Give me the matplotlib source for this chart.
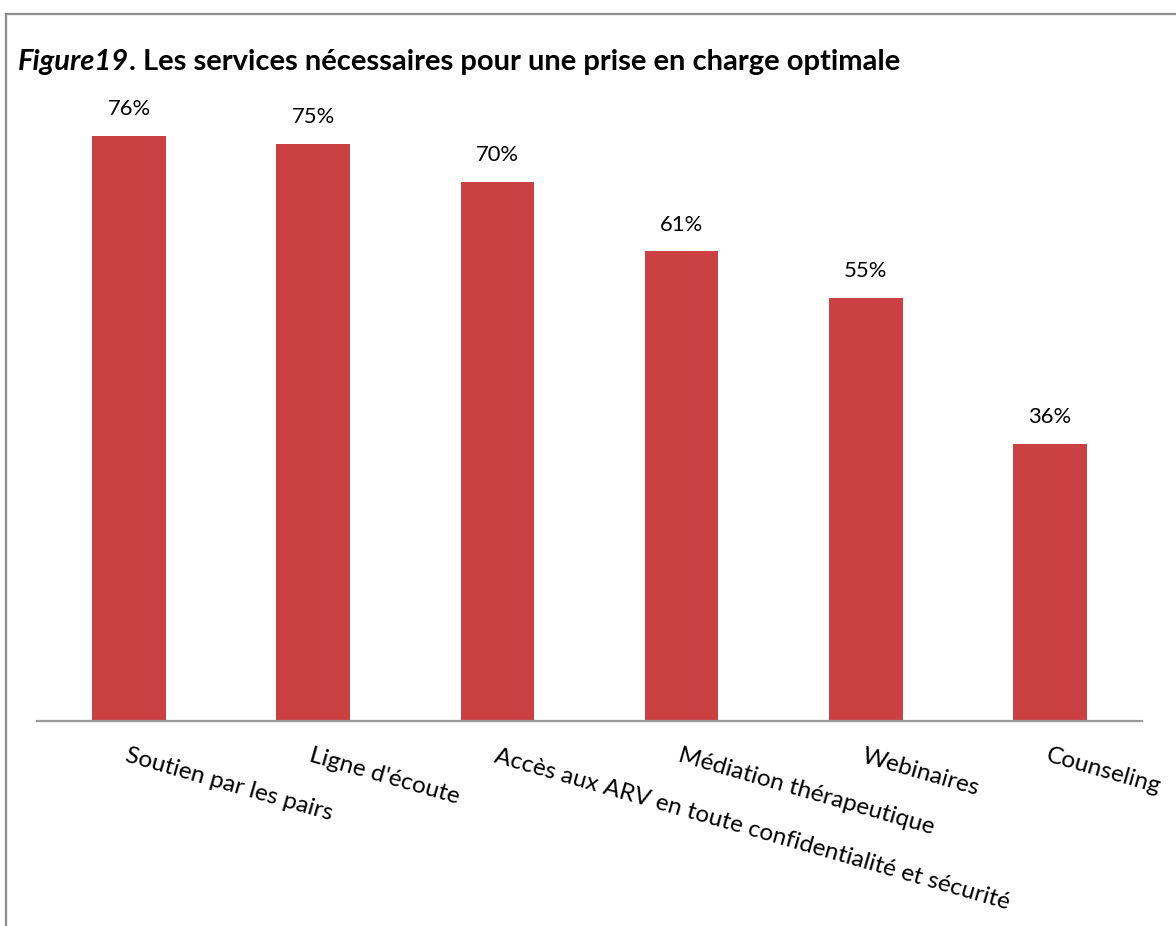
import matplotlib
matplotlib.use("Agg")
import matplotlib.pyplot as plt
from matplotlib.patches import Rectangle
from matplotlib.transforms import offset_copy

categories = ["Soutien par les pairs", "Ligne d'écoute",
              "Accès aux ARV en toute confidentialité et sécurité",
              "Médiation thérapeutique", "Webinaires", "Counseling"]
values = [76, 75, 70, 61, 55, 36]
title_italic = "Figure19"
title_rest = ". Les services nécessaires pour une prise en charge optimale"

FONT = "Lato"
W, H = 1176, 926
fig = plt.figure(figsize=(W / 100, H / 100), dpi=100)
fig.patch.set_facecolor("white")

# outer border (top and left visible)
fig.patches.append(Rectangle((6 / W, -0.1), 1.2, (H - 14) / H + 0.1,
                             transform=fig.transFigure, fill=False,
                             edgecolor="#8c8c8c", linewidth=1.6))

left, right = 37 / W, 1142 / W
bottom, top = 1 - 721 / H, 1 - 105 / H
ax = fig.add_axes([left, bottom, right - left, top - bottom])
x = list(range(len(categories)))
bars = ax.bar(x, values, width=0.4, color="#CB4043", zorder=2)
ax.set_xlim(-0.5, len(categories) - 0.5)
ax.set_ylim(0, 80)
for s in ["top", "right", "left"]:
    ax.spines[s].set_visible(False)
ax.spines["bottom"].set_color("#9a9a9a")
ax.spines["bottom"].set_linewidth(1.6)
ax.set_yticks([])
ax.set_xticks(x)
ax.set_xticklabels([])
ax.tick_params(axis="x", length=0)

for xi, v in zip(x, values):
    ax.annotate(f"{v}%", (xi, v), xytext=(0, 12), textcoords="offset points",
                ha="center", va="bottom", fontsize=15.8, family=FONT, color="#000000")

trans = offset_copy(ax.get_xaxis_transform(), fig=fig, x=0, y=-17.5, units="points")
for xi, lab in zip(x, categories):
    ax.text(xi, 0, lab, transform=trans, rotation=-16, rotation_mode="anchor",
            ha="left", va="top", fontsize=17.5, family=FONT, color="#000000")

t1 = fig.text(18 / W, 1 - 70 / H, title_italic, fontsize=21, fontweight="bold",
              fontstyle="italic", family=FONT, va="baseline", ha="left")
fig.canvas.draw()
bb = t1.get_window_extent()
fig.text(bb.x1 / W, 1 - 70 / H, title_rest, fontsize=21, fontweight="bold",
         family=FONT, va="baseline", ha="left")

fig.savefig("out.png", dpi=100, facecolor="white")
